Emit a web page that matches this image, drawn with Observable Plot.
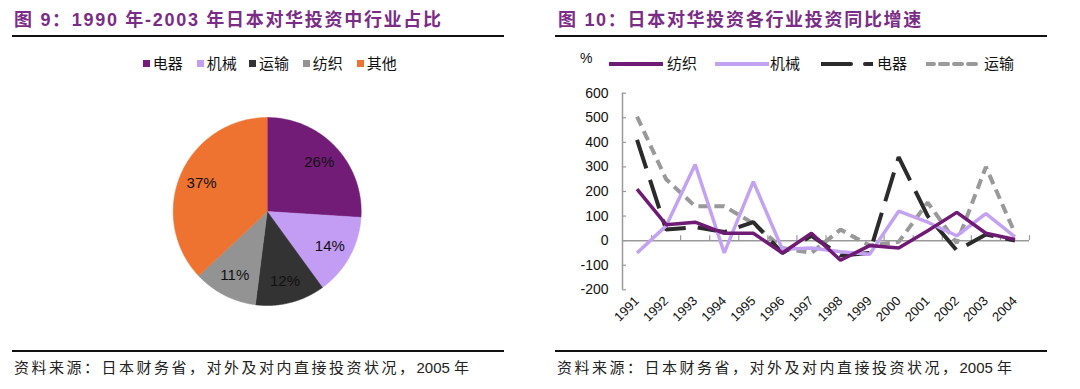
<!DOCTYPE html>
<html>
<head>
<meta charset="utf-8">
<script src="https://cdn.jsdelivr.net/npm/d3@7"></script>
<script src="https://cdn.jsdelivr.net/npm/@observablehq/plot@0.6"></script>
<style>
  html, body { margin: 0; padding: 0; background: #fff; }
  #root { position: relative; width: 1080px; height: 389px; overflow: hidden;
    font-family: "Liberation Sans", "Noto Sans CJK SC", sans-serif; color: #111; }
  .title { position: absolute; top: 5px; font-size: 18px; font-weight: bold; color: #7a2c86; letter-spacing: 1.7px; white-space: nowrap; }
  .hline { position: absolute; height: 1.6px; background: #111; }
  .foot { position: absolute; top: 356px; font-size: 15px; color: #222; letter-spacing: 2.5px; white-space: nowrap; }
  .foot .n { letter-spacing: 0; }
  .abs { position: absolute; }
  .leg { position: absolute; font-size: 15px; white-space: nowrap; line-height: 18px; }
  .sq { display: inline-block; width: 7px; height: 7px; margin-right: 3px; vertical-align: 2px; }
</style>
</head>
<body>
<div id="root">
  <div class="title" style="left:14px">图 9：1990 年-2003 年日本对华投资中行业占比</div>
  <div class="hline" style="left:12px; width:492px; top:35px"></div>
  <div class="title" style="left:558px">图 10：日本对华投资各行业投资同比增速</div>
  <div class="hline" style="left:555px; width:492px; top:35px"></div>

  <div id="pieLegend"></div>
  <div id="lineLegend"></div>

  <div id="pie" class="abs" style="left:0; top:80px"></div>
  <div id="line" class="abs" style="left:540px; top:80px"></div>

  <div class="hline" style="left:12px; width:492px; top:350px"></div>
  <div class="hline" style="left:555px; width:492px; top:350px"></div>
  <div class="foot" style="left:14px">资料来源：日本财务省，对外及对内直接投资状况，<span class="n">2005 </span>年</div>
  <div class="foot" style="left:557px">资料来源：日本财务省，对外及对内直接投资状况，<span class="n">2005 </span>年</div>
</div>
<script>
// ---------- Data ----------
const pieCats = ["电器", "机械", "运输", "纺织", "其他"];
const pieValues = [26, 14, 12, 11, 37];
const pieColors = ["#721c78", "#c39cf3", "#333333", "#939393", "#ee7230"];

const years = [1991, 1992, 1993, 1994, 1995, 1996, 1997, 1998, 1999, 2000, 2001, 2002, 2003, 2004];
const textile   = [210, 65, 75, 30, 30, -50, 30, -80, -20, -30, 40, 115, 30, 5];
const machinery = [-50, 60, 310, -50, 240, -35, -30, -45, -55, 120, 75, 20, 110, 15];
const electric  = [410, 45, 55, 35, 75, -50, 20, -60, -50, 340, 100, -40, 25, 0];
const transport = [505, 250, 140, 140, 70, -30, -50, 45, -20, -5, 155, -10, 300, 30];
const yTicks = [-200, -100, 0, 100, 200, 300, 400, 500, 600];

const seriesNames = ["纺织", "机械", "电器", "运输"];
const seriesValues = [textile, machinery, electric, transport];
const seriesColors = ["#6f1a74", "#c4a2f2", "#2b2b2b", "#999999"];
const seriesDash = [null, null, "30,12", "10,6"];
const seriesWidth = [3.5, 3.5, 4, 4];

// ---------- Pie legend ----------
const pieLegendX = [142.7, 196.7, 249, 302.7, 356.7];
const pl = document.getElementById("pieLegend");
pieCats.forEach((c, i) => {
  const d = document.createElement("div");
  d.className = "leg";
  d.style.left = pieLegendX[i] + "px";
  d.style.top = "55px";
  d.innerHTML = `<span class="sq" style="background:${pieColors[i]}"></span>${c}`;
  pl.appendChild(d);
});

// ---------- Pie ----------
const arcs = d3.pie().sort(null).value(d => d)(pieValues);
const piePts = [];
arcs.forEach((a, i) => {
  piePts.push({cat: pieCats[i], x: 0, y: 0});
  const n = 60;
  for (let k = 0; k <= n; k++) {
    const t = a.startAngle + (a.endAngle - a.startAngle) * k / n;
    piePts.push({cat: pieCats[i], x: Math.sin(t), y: Math.cos(t)});
  }
  piePts.push({cat: pieCats[i], x: 0, y: 0});
});
const labelR = 0.76;
const pieLabels = arcs.map((a, i) => {
  const m = (a.startAngle + a.endAngle) / 2;
  return {x: labelR * Math.sin(m), y: labelR * Math.cos(m), t: pieValues[i] + "%"};
});
const pie = Plot.plot({
  width: 540, height: 260,
  marginLeft: 172.7, marginRight: 179.3, marginTop: 37, marginBottom: 35,
  x: {domain: [-1, 1], axis: null},
  y: {domain: [-1, 1], axis: null},
  color: {domain: pieCats, range: pieColors},
  style: {fontFamily: "Liberation Sans, Noto Sans CJK SC, sans-serif", background: "transparent"},
  marks: [
    Plot.line(piePts, {x: "x", y: "y", z: "cat", fill: "cat", stroke: "cat", strokeWidth: 0.5, curve: "linear"}),
    Plot.text(pieLabels, {x: "x", y: "y", text: "t", fontSize: 15, fill: "#111"})
  ]
});
document.getElementById("pie").appendChild(pie);

// ---------- Line legend ----------
const ll = document.getElementById("lineLegend");
const pct = document.createElement("div");
pct.className = "leg"; pct.style.left = "580px"; pct.style.top = "49px"; pct.style.fontSize = "14px";
pct.textContent = "%";
ll.appendChild(pct);
const swX = [609, 715, 821, 926];
const swW = [54, 54, 52, 56];
const labX = [667, 770, 877, 984];
seriesNames.forEach((s, i) => {
  const sv = document.createElementNS("http://www.w3.org/2000/svg", "svg");
  sv.setAttribute("width", swW[i]); sv.setAttribute("height", 8);
  sv.style.position = "absolute"; sv.style.left = swX[i] + "px"; sv.style.top = "60px";
  const ln = document.createElementNS("http://www.w3.org/2000/svg", "line");
  ln.setAttribute("x1", 0); ln.setAttribute("x2", swW[i]);
  ln.setAttribute("y1", 4); ln.setAttribute("y2", 4);
  ln.setAttribute("stroke", seriesColors[i]); ln.setAttribute("stroke-width", 4);
  ln.setAttribute("stroke-linecap", "round");
  if (seriesDash[i]) ln.setAttribute("stroke-dasharray", i === 2 ? "30,14" : "8,6");
  sv.appendChild(ln); ll.appendChild(sv);
  const t = document.createElement("div");
  t.className = "leg"; t.style.left = labX[i] + "px"; t.style.top = "55px";
  t.textContent = s; ll.appendChild(t);
});

// ---------- Line chart ----------
const rows = [];
seriesNames.forEach((s, i) => years.forEach((y, j) => rows.push({s, year: y, v: seriesValues[i][j]})));
const x0 = years[0] - 0.5, x1 = years[years.length - 1] + 0.5;
const bounds = years.map(y => y + 0.5);
const drawOrder = [3, 2, 1, 0];
const lineMarks = drawOrder.map(i => Plot.line(rows.filter(r => r.s === seriesNames[i]), {
  x: "year", y: "v", stroke: seriesColors[i], strokeWidth: seriesWidth[i],
  strokeDasharray: seriesDash[i] || undefined, strokeLinejoin: "miter", strokeLinecap: "butt"
}));
const line = Plot.plot({
  width: 540, height: 260,
  marginLeft: 82, marginRight: 51, marginTop: 12.7, marginBottom: 50.7,
  x: {domain: [x0, x1]},
  y: {domain: [-200, 600]},
  style: {fontFamily: "Liberation Sans, Noto Sans CJK SC, sans-serif", background: "transparent", color: "#111"},
  marks: [
    Plot.ruleY([0], {x1: x0, x2: x1, stroke: "#999", strokeWidth: 1.5}),
    Plot.ruleX(bounds, {x: d => d, y1: 0, y2: 0, insetTop: -5, stroke: "#999", strokeWidth: 1.2}),
    Plot.ruleX([x0], {y1: -200, y2: 600, stroke: "#999", strokeWidth: 1.5}),
    Plot.ruleY(yTicks, {y: d => d, x1: x0, x2: x0, insetRight: -4, stroke: "#999", strokeWidth: 1.2}),
    ...lineMarks,
    Plot.axisY({ticks: yTicks, tickSize: 0, tickPadding: 14, fontSize: 14, label: null, tickFormat: d => String(d)}),
    Plot.axisX({ticks: years, tickSize: 0, tickPadding: 9, tickRotate: -45, fontSize: 13, label: null, tickFormat: d => String(d)})
  ]
});
document.getElementById("line").appendChild(line);
</script>
</body>
</html>
